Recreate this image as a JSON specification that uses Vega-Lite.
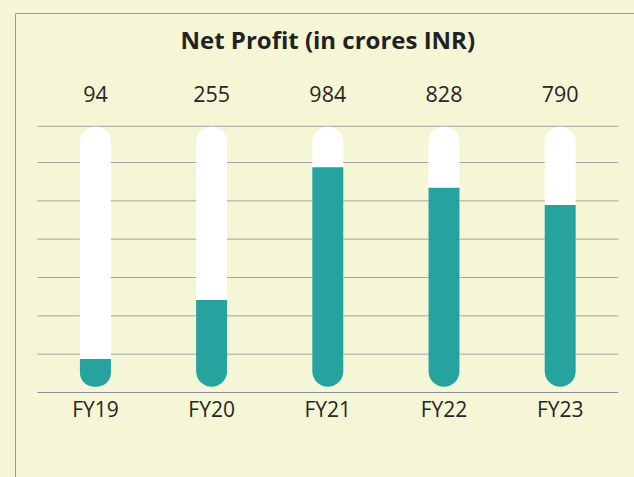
{
  "$schema": "https://vega.github.io/schema/vega-lite/v6.json",
  "width": 625.6,
  "height": 471.5,
  "autosize": "none",
  "padding": {"left": 15, "top": 13, "right": 0, "bottom": 0},
  "background": "#f5f6d6",
  "config": {
    "view": {"stroke": "#9a9a9a", "strokeWidth": 1},
    "font": "Open Sans"
  },
  "title": {
    "text": "Net Profit (in crores INR)",
    "font": "Open Sans",
    "fontSize": 24,
    "fontWeight": "bold",
    "color": "#222222",
    "anchor": "middle",
    "frame": "group",
    "orient": "top",
    "baseline": "alphabetic",
    "offset": -39,
    "dy": 21
  },
  "data": {
    "values": [
      {"fy": "FY19", "profit": 94, "bar_level": 0.874},
      {"fy": "FY20", "profit": 255, "bar_level": 2.413},
      {"fy": "FY21", "profit": 984, "bar_level": 5.875},
      {"fy": "FY22", "profit": 828, "bar_level": 5.343},
      {"fy": "FY23", "profit": 790, "bar_level": 4.892}
    ]
  },
  "resolve": {"scale": {"x": "shared", "y": "shared"}},
  "layer": [
    {
      "data": {"values": [{"g": 0}, {"g": 1}, {"g": 2}, {"g": 3}, {"g": 4}, {"g": 5}, {"g": 6}, {"g": 6.945}]},
      "mark": {"type": "rule", "strokeWidth": 1},
      "encoding": {
        "y": {"field": "g", "type": "quantitative", "scale": {"domain": [-2.4, 9.9], "nice": false, "zero": false}, "axis": null},
        "x": {"datum": "FY19", "type": "nominal", "bandPosition": 0, "scale": {"domain": ["FY19", "FY20", "FY21", "FY22", "FY23"], "paddingInner": 0, "paddingOuter": 0.192}, "axis": null},
        "x2": {"datum": "FY23", "bandPosition": 1},
        "stroke": {"condition": {"test": "datum.g == 0", "value": "#8e8e96"}, "value": "#a3a3a3"}
      }
    },
    {
      "mark": {"type": "bar", "color": "#ffffff", "width": 31, "cornerRadius": 15.5},
      "encoding": {
        "x": {"field": "fy", "type": "nominal", "axis": null},
        "y": {"datum": 6.935, "type": "quantitative"},
        "y2": {"datum": 0.151}
      }
    },
    {
      "mark": {"type": "bar", "color": "#27a39f", "width": 31, "cornerRadiusBottomLeft": 15.5, "cornerRadiusBottomRight": 15.5},
      "encoding": {
        "x": {"field": "fy", "type": "nominal", "axis": null},
        "y": {"field": "bar_level", "type": "quantitative"},
        "y2": {"datum": 0.151}
      }
    },
    {
      "mark": {"type": "text", "font": "Open Sans", "fontSize": 21.5, "color": "#262626", "baseline": "middle", "align": "center"},
      "encoding": {
        "x": {"field": "fy", "type": "nominal", "axis": null},
        "y": {"datum": 7.735, "type": "quantitative"},
        "text": {"field": "profit", "type": "quantitative"}
      }
    },
    {
      "mark": {"type": "text", "font": "Open Sans", "fontSize": 21, "color": "#262626", "baseline": "middle", "align": "center"},
      "encoding": {
        "x": {"field": "fy", "type": "nominal", "axis": null},
        "y": {"datum": -0.483, "type": "quantitative"},
        "text": {"field": "fy", "type": "nominal"}
      }
    }
  ]
}
